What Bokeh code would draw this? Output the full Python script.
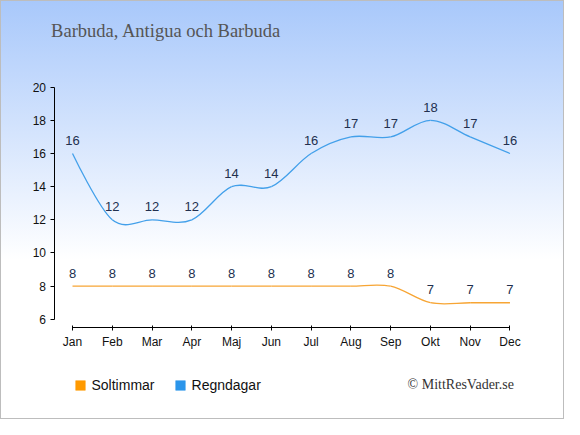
import numpy as np
from bokeh.plotting import figure
from bokeh.models import Range1d, FixedTicker, Legend, LegendItem, Label, ColumnDataSource
from bokeh.embed import file_html
from bokeh.resources import INLINE
from bokeh.core.properties import value

months = ["Jan", "Feb", "Mar", "Apr", "Maj", "Jun", "Jul", "Aug", "Sep", "Okt", "Nov", "Dec"]
soltimmar = [8, 8, 8, 8, 8, 8, 8, 8, 8, 7, 7, 7]
regndagar = [16, 12, 12, 12, 14, 14, 16, 17, 17, 18, 17, 16]
y_ticks = [6, 8, 10, 12, 14, 16, 18, 20]

SUN = "#f7a534"
RAIN = "#43a0ea"
LBL = "#22304f"

W, H = 564, 419
# frame: left 30, right 564, top 0, bottom 395 (px in figure)
p = figure(width=W, height=H, output_backend="svg", toolbar_location=None,
           x_range=Range1d(-1.0561, 12.3712), y_range=Range1d(1.405, 25.229),
           min_border_left=30, min_border_right=0, min_border_top=0, min_border_bottom=24,
           styles={"background": "linear-gradient(to bottom, #a8c8fb 0%, #ffffff 62%, #ffffff 100%)",
                   "box-shadow": "inset 0 0 0 1px #bdbdbd"})
p.border_fill_alpha = 0
p.background_fill_alpha = 0
p.outline_line_color = None
p.xgrid.visible = False
p.ygrid.visible = False


def spline_segments(vals):
    y = np.asarray(vals, dtype=float)
    x = np.arange(len(y), dtype=float)
    n = len(y)
    m = np.zeros(n)
    m[1:-1] = (y[2:] - y[:-2]) / 2.0
    d = 1.0 / 3.0
    x0, y0, x1, y1 = x[:-1], y[:-1], x[1:], y[1:]
    cx0 = x0 + d
    cy0 = y0 + d * m[:-1]
    cx1 = x1 - d
    cy1 = y1 - d * m[1:]
    cx0[0], cy0[0] = x0[0], y0[0]
    cx1[-1], cy1[-1] = x1[-1], y1[-1]
    return dict(x0=x0, y0=y0, x1=x1, y1=y1, cx0=cx0, cy0=cy0, cx1=cx1, cy1=cy1)


for vals, col in ((soltimmar, SUN), (regndagar, RAIN)):
    src = ColumnDataSource(spline_segments(vals))
    p.bezier("x0", "y0", "x1", "y1", "cx0", "cy0", "cx1", "cy1", source=src,
             line_color=col, line_width=1.3)
    lsrc = ColumnDataSource(dict(x=list(range(len(vals))), y=vals, t=[str(v) for v in vals]))
    p.text("x", "y", "t", source=lsrc, text_align="center", text_baseline="alphabetic",
           y_offset=-13, text_font=value("Liberation Sans"), text_font_size="13px", text_color=LBL)

# axes drawn at fixed positions inside the frame
p.xaxis.fixed_location = 5.477
p.yaxis.fixed_location = -0.465
p.xaxis.ticker = FixedTicker(ticks=list(range(12)))
p.xaxis.major_label_overrides = {i: mname for i, mname in enumerate(months)}
p.xaxis.bounds = (0, 11)
p.xaxis.minor_tick_line_color = None
p.xaxis.major_tick_in = 2
p.xaxis.major_tick_out = 3
p.xaxis.major_label_standoff = 4
p.yaxis.ticker = FixedTicker(ticks=y_ticks)
p.yaxis.bounds = (6, 20)
p.yaxis.minor_tick_line_color = None
p.yaxis.major_tick_in = 0
p.yaxis.major_tick_out = 4
p.yaxis.major_label_standoff = 4
for ax in (p.xaxis, p.yaxis):
    ax.axis_line_color = "#000000"
    ax.major_tick_line_color = "#000000"
    ax.major_label_text_font = "Liberation Sans"
    ax.major_label_text_font_size = "12px"
    ax.major_label_text_color = "#111111"

# legend (area glyph renderers with no visible data)
r_sun = p.quad(left=[np.nan], right=[np.nan], top=[np.nan], bottom=[np.nan],
               fill_color="#ff9a00", line_color="#ff9a00", line_width=0.5)
r_rain = p.quad(left=[np.nan], right=[np.nan], top=[np.nan], bottom=[np.nan],
                fill_color="#2b95ea", line_color="#2b95ea", line_width=0.5)
legend = Legend(items=[LegendItem(label="Soltimmar", renderers=[r_sun]),
                       LegendItem(label="Regndagar", renderers=[r_rain])],
                location=(43.5, 2), orientation="horizontal",
                glyph_width=12, glyph_height=12, label_standoff=6, spacing=19,
                padding=0, margin=0,
                label_text_font="Liberation Sans", label_text_font_size="14px",
                label_text_color="#111111",
                border_line_alpha=0, background_fill_alpha=0)
p.add_layout(legend)

# title and credit
p.add_layout(Label(x=-0.538, y=23.41, text="Barbuda, Antigua och Barbuda", text_baseline="alphabetic",
                   text_font="Liberation Serif", text_font_size="18.5px", text_color="#555555"))
p.add_layout(Label(x=11.099, y=2.07, text="© MittResVader.se", text_align="right", text_baseline="alphabetic",
                   text_font="Liberation Serif", text_font_size="14px", text_color="#333333"))

open("out.html", "w").write(file_html(p, INLINE))
